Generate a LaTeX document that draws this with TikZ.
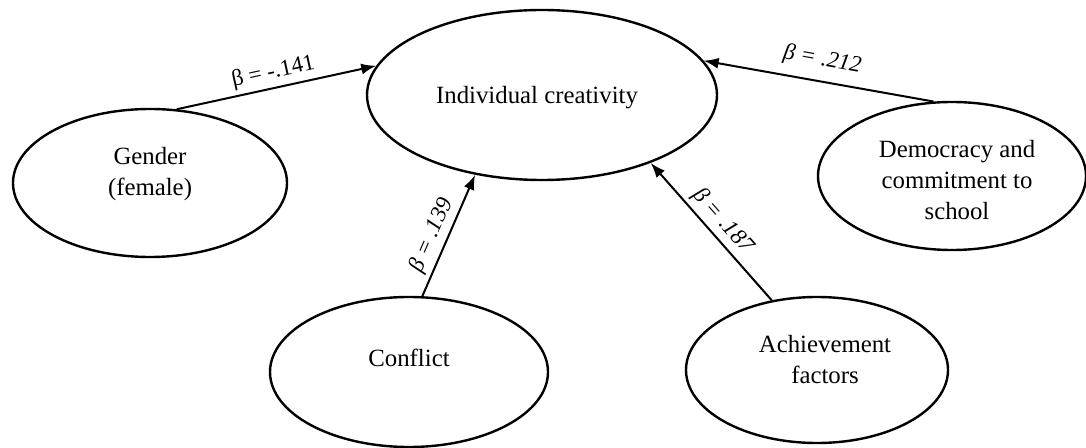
\documentclass[tikz,border=0pt]{standalone}
\usepackage{fontspec}
\setmainfont{Liberation Serif}
\usetikzlibrary{shapes.geometric,arrows.meta}
\begin{document}
\begin{tikzpicture}[x=0.5pt,y=-0.5pt,
  ell/.style={draw, ellipse, line width=1.2pt, inner sep=0pt},
  txt/.style={font=\fontsize{12.4}{15.5}\selectfont, align=center, inner sep=0pt},
  arr/.style={-{Latex[length=7.5pt,width=5.5pt]}, line width=1pt},
  lab/.style={font=\fontsize{11.5}{13}\selectfont, sloped, above, inner sep=2pt}]
\useasboundingbox[fill=white] (0,0) rectangle (1086,448);
% ellipses
\node[ell, minimum width=175pt, minimum height=85pt] (ic) at (542,95) {};
\node[ell, minimum width=137pt, minimum height=74pt] (gender) at (150,183) {};
\node[ell, minimum width=139pt, minimum height=75pt] (conflict) at (409,372) {};
\node[ell, minimum width=131pt, minimum height=73pt] (ach) at (817,370) {};
\node[ell, minimum width=134pt, minimum height=74pt] (dem) at (952,176) {};
% texts
\node[txt] (ict) at (537,98) {Individual creativity};
\node[txt] (gendert) at (150,174) {Gender\\(female)};
\node[txt] (conflictt) at (409,358) {Conflict};
\node[txt] (acht) at (825,360) {Achievement\\factors};
\node[txt] (demt) at (957,180) {Democracy and\\commitment to\\school};
% arrows
\draw[arr] (gender.70) -- node[lab, pos=0.5] {β = -.141} (ic.170.8);
\draw[arr] (conflict.80) -- node[lab, pos=0.45] {\itshape β = .139} (ic.230.5);
\draw[arr] (ach.123) -- node[lab, pos=0.5] {\itshape β = .187} (ic.-32.4);
\draw[arr] (dem.104) -- node[lab, pos=0.5, above=3pt] {\itshape β = .212} (ic.12.1);
\end{tikzpicture}
\end{document}
